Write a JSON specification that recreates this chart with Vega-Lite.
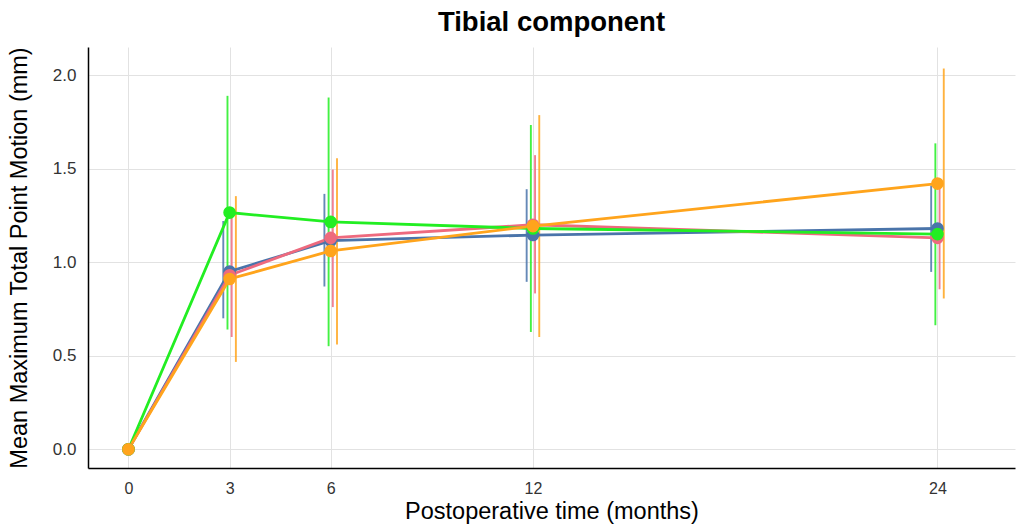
{
  "$schema": "https://vega.github.io/schema/vega-lite/v6.json",
  "width": 927,
  "height": 421,
  "autosize": "none",
  "padding": {"left": 88, "top": 47, "right": 2, "bottom": 62},
  "background": "white",
  "title": {
    "text": "Tibial component",
    "font": "Liberation Sans",
    "fontSize": 27.5,
    "fontWeight": "bold",
    "color": "black",
    "anchor": "middle",
    "offset": 10
  },
  "config": {
    "view": {"stroke": null},
    "font": "Liberation Sans"
  },
  "data": {
    "values": [
      {"group": "A", "month": 0, "mean": 0, "lo": 0, "hi": 0},
      {"group": "A", "month": 3, "mean": 0.95, "lo": 0.70, "hi": 1.22},
      {"group": "A", "month": 6, "mean": 1.115, "lo": 0.87, "hi": 1.365},
      {"group": "A", "month": 12, "mean": 1.145, "lo": 0.895, "hi": 1.39},
      {"group": "A", "month": 24, "mean": 1.18, "lo": 0.948, "hi": 1.41},
      {"group": "B", "month": 0, "mean": 0, "lo": 0, "hi": 0},
      {"group": "B", "month": 3, "mean": 0.93, "lo": 0.60, "hi": 1.265},
      {"group": "B", "month": 6, "mean": 1.13, "lo": 0.76, "hi": 1.495},
      {"group": "B", "month": 12, "mean": 1.20, "lo": 0.833, "hi": 1.572},
      {"group": "B", "month": 24, "mean": 1.13, "lo": 0.855, "hi": 1.40},
      {"group": "C", "month": 0, "mean": 0, "lo": 0, "hi": 0},
      {"group": "C", "month": 3, "mean": 1.265, "lo": 0.64, "hi": 1.889},
      {"group": "C", "month": 6, "mean": 1.215, "lo": 0.551, "hi": 1.88},
      {"group": "C", "month": 12, "mean": 1.18, "lo": 0.627, "hi": 1.733},
      {"group": "C", "month": 24, "mean": 1.15, "lo": 0.663, "hi": 1.635},
      {"group": "D", "month": 0, "mean": 0, "lo": 0, "hi": 0},
      {"group": "D", "month": 3, "mean": 0.91, "lo": 0.467, "hi": 1.353},
      {"group": "D", "month": 6, "mean": 1.06, "lo": 0.56, "hi": 1.555},
      {"group": "D", "month": 12, "mean": 1.193, "lo": 0.60, "hi": 1.786},
      {"group": "D", "month": 24, "mean": 1.42, "lo": 0.806, "hi": 2.035}
    ]
  },
  "encoding": {
    "x": {
      "field": "month",
      "type": "quantitative",
      "scale": {"domain": [-1.2, 26.3], "nice": false, "zero": false},
      "axis": {
        "values": [0, 3, 6, 12, 24],
        "grid": true,
        "gridColor": "#e2e2e2",
        "gridWidth": 1,
        "domainColor": "black",
        "domainWidth": 1.5,
        "ticks": false,
        "labelFont": "Liberation Sans",
        "labelFontSize": 16,
        "labelColor": "#333333",
        "labelPadding": 12,
        "title": "Postoperative time (months)",
        "titleFont": "Liberation Sans",
        "titleFontSize": 23.5,
        "titleFontWeight": "normal",
        "titleColor": "black",
        "titlePadding": 3
      }
    },
    "color": {
      "field": "group",
      "type": "nominal",
      "scale": {"domain": ["A", "B", "C", "D"], "range": ["#4a74aa", "#ee6a7e", "#22ee22", "#ffa41c"]},
      "legend": null
    }
  },
  "layer": [
    {
      "transform": [{"filter": "datum.group === 'A' && datum.month > 0"}],
      "mark": {"type": "rule", "strokeWidth": 1.9, "opacity": 0.85, "xOffset": -6.3},
      "encoding": {
        "y": {"field": "lo", "type": "quantitative"},
        "y2": {"field": "hi"}
      }
    },
    {
      "transform": [{"filter": "datum.group === 'C' && datum.month > 0"}],
      "mark": {"type": "rule", "strokeWidth": 1.9, "opacity": 0.85, "xOffset": -2.1},
      "encoding": {
        "y": {"field": "lo", "type": "quantitative"},
        "y2": {"field": "hi"}
      }
    },
    {
      "transform": [{"filter": "datum.group === 'B' && datum.month > 0"}],
      "mark": {"type": "rule", "strokeWidth": 1.9, "opacity": 0.85, "xOffset": 2.1},
      "encoding": {
        "y": {"field": "lo", "type": "quantitative"},
        "y2": {"field": "hi"}
      }
    },
    {
      "transform": [{"filter": "datum.group === 'D' && datum.month > 0"}],
      "mark": {"type": "rule", "strokeWidth": 1.9, "opacity": 0.85, "xOffset": 6.3},
      "encoding": {
        "y": {"field": "lo", "type": "quantitative"},
        "y2": {"field": "hi"}
      }
    },
    {
      "mark": {"type": "line", "strokeWidth": 2.8},
      "encoding": {
        "y": {
          "field": "mean",
          "type": "quantitative",
          "scale": {"domain": [-0.1, 2.15], "nice": false, "zero": false},
          "axis": {
            "values": [0, 0.5, 1, 1.5, 2],
            "format": ".1f",
            "grid": true,
            "gridColor": "#e2e2e2",
            "gridWidth": 1,
            "domainColor": "black",
            "domainWidth": 1.5,
            "ticks": false,
            "labelFont": "Liberation Sans",
            "labelFontSize": 17,
            "labelColor": "#333333",
            "labelPadding": 12,
            "title": "Mean Maximum Total Point Motion (mm)",
            "titleFont": "Liberation Sans",
            "titleFontSize": 23.5,
            "titleFontWeight": "normal",
            "titleColor": "black",
            "titlePadding": 21
          }
        },
        "order": {"field": "month", "type": "quantitative"}
      }
    },
    {
      "mark": {"type": "point", "filled": true, "opacity": 1, "size": 160},
      "encoding": {
        "y": {"field": "mean", "type": "quantitative"}
      }
    }
  ]
}
